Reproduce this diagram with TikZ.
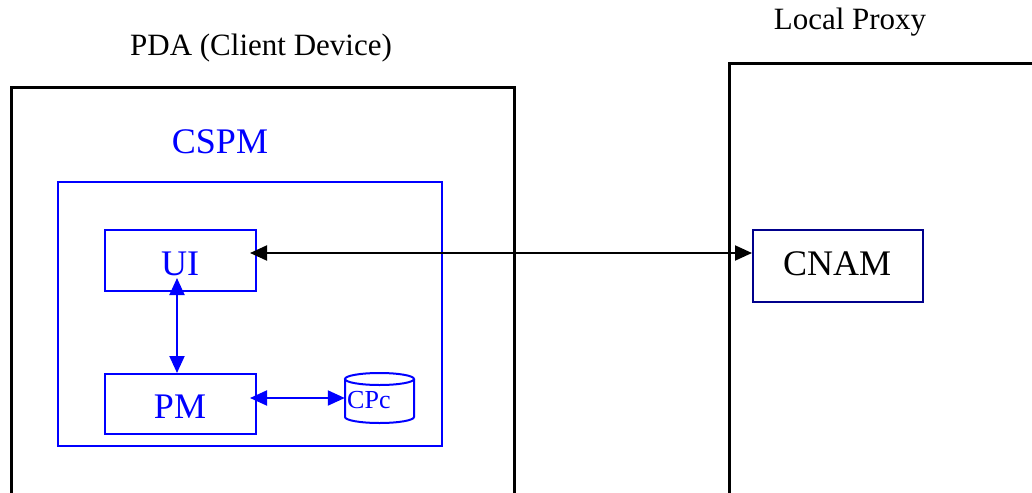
\documentclass[tikz,border=0pt]{standalone}
\usepackage{fontspec}
\setmainfont{Liberation Serif}
\usetikzlibrary{arrows.meta}
\begin{document}
\begin{tikzpicture}[x=1pt,y=-1pt,
  outerbox/.style={draw=black,line width=2.6pt,inner sep=0pt,anchor=north west},
  bluebox/.style={draw=blue,line width=2.4pt,inner sep=0pt,anchor=north west},
  lbl/.style={font=\fontsize{31}{31}\selectfont,anchor=base,inner sep=0pt},
  big/.style={font=\fontsize{36}{36}\selectfont,anchor=base,inner sep=0pt},
  conn/.style={line width=2pt,{Triangle[length=17pt,width=15pt]}-{Triangle[length=17pt,width=15pt]}}]
\useasboundingbox (0,0) rectangle (1032,492);
\clip (0,0) rectangle (1032,492);
% outer boxes
\node[outerbox,minimum width=503pt,minimum height=440pt] (pda) at (10,86) {};
\node[outerbox,minimum width=340pt,minimum height=460pt] (proxy) at (728,62) {};
\node[lbl] (pdalbl) at (261,56) {PDA (Client Device)};
\node[lbl] (proxylbl) at (850,30) {Local Proxy};
% CSPM
\node[bluebox,minimum width=384pt,minimum height=264pt] (cspm) at (57,181) {};
\node[big,text=blue] (cspmlbl) at (220,153) {CSPM};
\node[bluebox,minimum width=151pt,minimum height=61pt] (ui) at (104,229) {};
\node[big,text=blue] (uilbl) at (180,275) {UI};
\node[bluebox,minimum width=151pt,minimum height=60pt] (pm) at (104,373) {};
\node[big,text=blue] (pmlbl) at (180,418) {PM};
% CPc cylinder
\node[minimum width=69pt,minimum height=50pt,inner sep=0pt] (cpc) at (379.5,398) {};
\draw[blue,line width=2pt] (345,379) -- (345,417) arc[start angle=180,end angle=360,x radius=34.5pt,y radius=6pt] -- (414,379);
\draw[blue,line width=2pt] (379.5,379) ellipse [x radius=34.5pt,y radius=6pt];
\node[font=\fontsize{26}{26}\selectfont,text=blue,anchor=base west,inner sep=0pt] (cpclbl) at (347,408) {CPc};
% CNAM
\node[draw={rgb,255:red,0;green,0;blue,140},line width=2.4pt,inner sep=0pt,anchor=north west,minimum width=170pt,minimum height=72pt] (cnam) at (752,229) {};
\node[big] (cnamlbl) at (837,275) {CNAM};
% connectors
\coordinate (uiR) at (250,253);
\coordinate (uiB) at (177,278);
\coordinate (pmR) at (250,398);
\draw[conn] (uiR) -- (uiR -| cnam.west);
\draw[conn,blue] (uiB) -- (uiB |- pm.north);
\draw[conn,blue] (pmR) -- (pmR -| cpc.west);
\end{tikzpicture}
\end{document}
